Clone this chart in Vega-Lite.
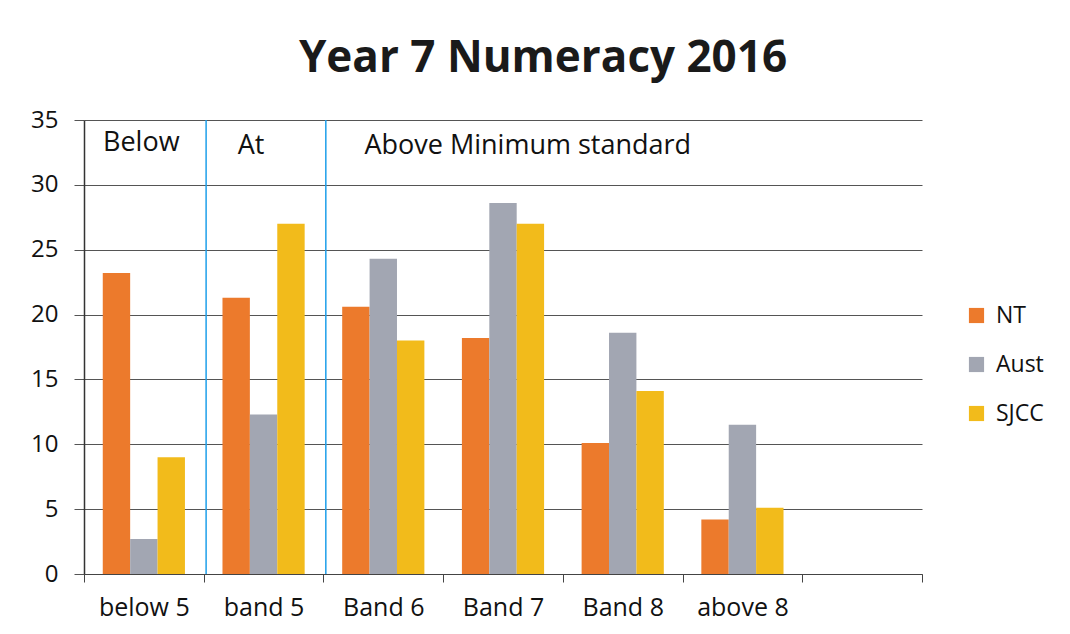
{
  "$schema": "https://vega.github.io/schema/vega-lite/v6.json",
  "autosize": "none",
  "padding": {"left": 84, "top": 120, "right": 148, "bottom": 60},
  "width": 838,
  "height": 454,
  "background": "white",
  "config": {
    "font": "Open Sans",
    "view": {"stroke": null}
  },
  "title": {
    "text": "Year 7 Numeracy 2016",
    "fontSize": 44,
    "fontWeight": "bold",
    "color": "#1a1a1a",
    "anchor": "middle",
    "frame": "group",
    "baseline": "alphabetic",
    "offset": -8,
    "dx": 40
  },
  "datasets": {
    "bars": [
      {"cat": "below 5", "series": "NT", "value": 23.2},
      {"cat": "below 5", "series": "Aust", "value": 2.7},
      {"cat": "below 5", "series": "SJCC", "value": 9.0},
      {"cat": "band 5", "series": "NT", "value": 21.3},
      {"cat": "band 5", "series": "Aust", "value": 12.3},
      {"cat": "band 5", "series": "SJCC", "value": 27.0},
      {"cat": "Band 6", "series": "NT", "value": 20.6},
      {"cat": "Band 6", "series": "Aust", "value": 24.3},
      {"cat": "Band 6", "series": "SJCC", "value": 18.0},
      {"cat": "Band 7", "series": "NT", "value": 18.2},
      {"cat": "Band 7", "series": "Aust", "value": 28.6},
      {"cat": "Band 7", "series": "SJCC", "value": 27.0},
      {"cat": "Band 8", "series": "NT", "value": 10.1},
      {"cat": "Band 8", "series": "Aust", "value": 18.6},
      {"cat": "Band 8", "series": "SJCC", "value": 14.1},
      {"cat": "above 8", "series": "NT", "value": 4.2},
      {"cat": "above 8", "series": "Aust", "value": 11.5},
      {"cat": "above 8", "series": "SJCC", "value": 5.1}
    ],
    "dividers": [{"cat": "band 5"}, {"cat": "Band 6"}]
  },
  "data": {"name": "bars"},
  "layer": [
    {
      "mark": {"type": "bar"},
      "encoding": {
        "x": {
          "field": "cat",
          "type": "nominal",
          "scale": {
            "domain": ["below 5", "band 5", "Band 6", "Band 7", "Band 8", "above 8", " "],
            "paddingInner": 0,
            "paddingOuter": 0
          },
          "axis": {
            "title": null,
            "labelAngle": 0,
            "labelFontSize": 25,
            "labelColor": "#111",
            "labelPadding": 13,
            "tickBand": "extent",
            "tickSize": 8,
            "tickColor": "#444",
            "domainColor": "#444",
            "domainWidth": 1.2,
            "grid": false
          }
        },
        "xOffset": {
          "field": "series",
          "type": "nominal",
          "scale": {"domain": ["NT", "Aust", "SJCC"], "paddingInner": 0, "paddingOuter": 0.685}
        },
        "y": {
          "field": "value",
          "type": "quantitative",
          "scale": {"domain": [0, 35], "nice": false},
          "axis": {
            "title": null,
            "values": [0, 5, 10, 15, 20, 25, 30, 35],
            "labelFontSize": 24,
            "labelColor": "#111",
            "labelPadding": 16,
            "tickSize": 10,
            "tickColor": "#555",
            "gridColor": "#555",
            "gridWidth": 1,
            "domainColor": "#333",
            "domainWidth": 1.5
          }
        },
        "color": {
          "field": "series",
          "type": "nominal",
          "scale": {"domain": ["NT", "Aust", "SJCC"], "range": ["#EC7A2C", "#A2A6B2", "#F2BB1B"]},
          "legend": {
            "title": null,
            "orient": "none",
            "legendX": 881,
            "legendY": 184,
            "symbolType": "square",
            "symbolSize": 230,
            "symbolStrokeWidth": 0,
            "labelFontSize": 23,
            "labelColor": "#111",
            "labelOffset": 8,
            "rowPadding": 25
          }
        }
      }
    },
    {
      "data": {"name": "dividers"},
      "mark": {"type": "rule", "color": "#1E9FEA", "strokeWidth": 1.5},
      "encoding": {
        "x": {"field": "cat", "type": "nominal", "bandPosition": 0.02}
      }
    },
    {
      "data": {"values": [{"cat": "below 5", "label": "Below"}]},
      "mark": {"type": "text", "align": "left", "baseline": "middle", "fontSize": 27, "color": "#111", "dx": 19},
      "encoding": {
        "x": {"field": "cat", "type": "nominal", "bandPosition": 0},
        "y": {"datum": 33.2},
        "text": {"field": "label"}
      }
    },
    {
      "data": {"values": [{"cat": "band 5", "label": "At"}]},
      "mark": {"type": "text", "align": "left", "baseline": "middle", "fontSize": 27, "color": "#111", "dx": 34},
      "encoding": {
        "x": {"field": "cat", "type": "nominal", "bandPosition": 0},
        "y": {"datum": 33.0},
        "text": {"field": "label"}
      }
    },
    {
      "data": {"values": [{"cat": "Band 6", "label": "Above Minimum standard"}]},
      "mark": {"type": "text", "align": "left", "baseline": "middle", "fontSize": 27, "color": "#111", "dx": 41},
      "encoding": {
        "x": {"field": "cat", "type": "nominal", "bandPosition": 0},
        "y": {"datum": 33.0},
        "text": {"field": "label"}
      }
    }
  ]
}
